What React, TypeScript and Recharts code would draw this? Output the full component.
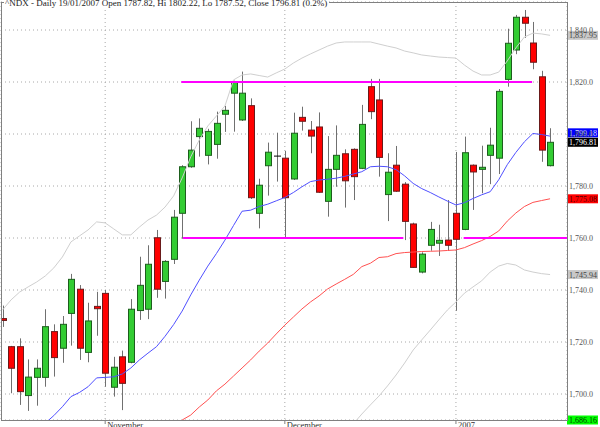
import {
  ComposedChart,
  Bar,
  Line,
  XAxis,
  YAxis,
  CartesianGrid,
  ReferenceLine,
} from "recharts";

const W = 600, H = 427;
const Y_MIN = 1690, Y_MAX = 1850.77;
const X_MIN = -0.175, X_MAX = 65.98;
const FONT = "'Liberation Serif', 'DejaVu Serif', serif";

const title = "^NDX - Daily 19/01/2007 Open 1787.82, Hi 1802.22, Lo 1787.52, Close 1796.81 (0.2%)";

// trading days 16 Oct 2006 .. 19 Jan 2007, one entry per candle index
const monthTicks = [12, 33, 53];
const monthLabels = ["November", "December", "2007"];
const priceTicks = [1700, 1720, 1740, 1760, 1780, 1800, 1820, 1840];

const opens = [1729.0, 1718.2, 1718.2, 1699.4, 1706.4, 1706.4, 1724.0, 1717.6, 1731.0, 1740.3, 1716.0, 1733.7, 1738.7, 1702.6, 1714.3, 1712.2, 1732.1, 1732.6, 1760.1, 1743.3, 1751.8, 1769.5, 1787.4, 1799.0, 1791.8, 1796.0, 1807.6, 1815.7, 1805.4, 1810.9, 1769.5, 1787.8, 1791.5, 1790.7, 1782.7, 1806.4, 1801.5, 1802.7, 1774.1, 1786.4, 1792.4, 1794.1, 1786.8, 1818.2, 1813.1, 1776.7, 1788.0, 1780.7, 1765.4, 1746.9, 1757.2, 1758.0, 1759.2, 1769.5, 1763.3, 1788.0, 1786.4, 1791.8, 1790.7, 1821.0, 1832.3, 1844.9, 1835.0, 1822.0, 1787.82];
const highs = [1734.0, 1718.5, 1721.4, 1713.3, 1713.3, 1732.6, 1726.8, 1730.0, 1746.2, 1741.9, 1735.1, 1739.3, 1740.0, 1714.3, 1716.7, 1736.5, 1752.8, 1757.2, 1763.1, 1751.5, 1770.8, 1788.0, 1804.9, 1806.0, 1802.0, 1808.6, 1810.8, 1820.5, 1824.0, 1813.7, 1782.8, 1796.7, 1800.5, 1793.5, 1808.2, 1810.5, 1805.0, 1808.3, 1799.2, 1803.3, 1794.1, 1794.5, 1811.2, 1821.2, 1821.2, 1792.6, 1795.4, 1781.5, 1765.9, 1754.5, 1766.2, 1765.1, 1774.6, 1793.1, 1799.0, 1788.3, 1795.5, 1802.4, 1817.3, 1840.5, 1845.8, 1847.7, 1843.1, 1824.3, 1802.22];
const lows = [1725.8, 1700.3, 1695.8, 1693.5, 1695.5, 1702.8, 1706.7, 1712.0, 1718.6, 1713.1, 1712.2, 1722.4, 1702.8, 1699.0, 1693.8, 1711.8, 1728.5, 1728.8, 1737.0, 1736.7, 1750.0, 1759.7, 1787.0, 1791.3, 1788.3, 1790.5, 1800.8, 1800.9, 1805.0, 1775.0, 1763.7, 1776.3, 1781.7, 1759.9, 1782.3, 1801.3, 1792.6, 1777.3, 1768.2, 1779.7, 1771.7, 1774.6, 1786.5, 1805.7, 1783.6, 1766.5, 1777.7, 1759.2, 1748.5, 1746.4, 1755.1, 1753.1, 1755.1, 1732.0, 1763.0, 1770.8, 1777.2, 1780.7, 1784.6, 1818.2, 1830.7, 1837.0, 1824.9, 1789.3, 1787.52];
const closes = [1728.3, 1709.9, 1700.9, 1706.5, 1709.9, 1725.9, 1714.0, 1726.8, 1744.1, 1717.6, 1728.1, 1732.8, 1708.0, 1710.3, 1704.1, 1732.6, 1741.8, 1749.9, 1740.3, 1751.0, 1768.0, 1787.4, 1793.8, 1802.2, 1801.0, 1804.1, 1809.1, 1820.0, 1815.7, 1775.5, 1780.3, 1793.0, 1791.5, 1775.5, 1800.3, 1804.9, 1799.2, 1777.6, 1786.4, 1791.8, 1782.0, 1783.6, 1803.7, 1808.6, 1791.0, 1785.3, 1778.0, 1766.4, 1748.7, 1753.8, 1763.3, 1759.1, 1757.2, 1759.5, 1792.8, 1785.4, 1787.2, 1795.7, 1816.4, 1834.9, 1844.9, 1842.6, 1827.6, 1793.8, 1796.81];

const sma20 = [null, null, null, null, 1684, 1688.8, 1691.7, 1695.1, 1699.0, 1700.6, 1702.8, 1706.2, 1706.4, 1706.6, 1707.7, 1710.0, 1713.1, 1715.7, 1718.2, 1722.2, 1726.7, 1731.9, 1738.1, 1743.8, 1749.2, 1754.0, 1759.2, 1764.8, 1770.3, 1770.7, 1772.1, 1773.0, 1774.3, 1775.6, 1777.5, 1779.7, 1781.7, 1782.3, 1782.6, 1783.0, 1783.7, 1784.6, 1785.5, 1787.4, 1787.6, 1787.4, 1786.3, 1783.9, 1781.0, 1779.0, 1777.5, 1775.8, 1774.2, 1772.7, 1773.6, 1775.2, 1776.6, 1777.8, 1782.4, 1788.2, 1792.9, 1797.0, 1800.2, 1799.8, 1799.18];
const sma50 = [null, null, null, null, null, null, null, null, null, null, null, null, null, null, null, null, null, null, null, null, 1687.5, 1690.0, 1691.9, 1695.0, 1697.7, 1701.2, 1703.8, 1706.9, 1710.0, 1713.1, 1716.5, 1719.6, 1723.1, 1726.5, 1729.6, 1732.7, 1735.4, 1737.7, 1740.4, 1742.3, 1744.1, 1746.0, 1749.0, 1750.3, 1752.5, 1752.8, 1754.0, 1754.4, 1754.6, 1754.8, 1754.9, 1755.0, 1755.2, 1755.4, 1756.3, 1757.7, 1759.0, 1760.6, 1762.7, 1766.5, 1769.6, 1772.1, 1773.7, 1774.4, 1775.08];
const bbUpper = [1732.3, 1736.2, 1739.2, 1741.2, 1743.1, 1745.4, 1748.5, 1752.7, 1758.5, 1760.8, 1763.1, 1766.2, 1765.8, 1763.5, 1761.2, 1761.2, 1764.2, 1766.9, 1768.8, 1771.9, 1776.2, 1783.1, 1791.2, 1797.7, 1803.1, 1806.9, 1810.8, 1820.8, 1822.7, 1823.1, 1822.5, 1821.9, 1823.5, 1825.0, 1827.3, 1829.2, 1830.8, 1832.3, 1833.8, 1835.0, 1835.4, 1835.4, 1835.4, 1835.4, 1834.6, 1833.8, 1833.1, 1831.9, 1831.2, 1830.4, 1830.0, 1829.6, 1829.4, 1829.2, 1826.5, 1824.2, 1822.7, 1822.7, 1823.8, 1828.1, 1833.1, 1837.3, 1838.8, 1838.5, 1837.95];
const bbLower = [null, null, null, null, null, null, null, null, null, null, null, null, null, null, null, null, null, null, null, null, null, null, null, null, null, null, null, null, null, null, null, null, null, null, null, null, null, null, null, null, 1682.0, 1688.5, 1692.3, 1695.8, 1699.2, 1703.1, 1707.3, 1711.9, 1716.9, 1720.8, 1724.6, 1728.5, 1732.3, 1735.4, 1738.8, 1741.2, 1743.5, 1746.9, 1749.2, 1750.2, 1749.6, 1747.7, 1746.9, 1746.3, 1745.94];

// hand-drawn trend lines (level, from index, to index)
const trendLines = [
  { level: 1820, from: 20.9, to: 61.9 },
  { level: 1760, from: 21.1, to: 46.85 },
  { level: 1760, from: 53.9, to: X_MAX },
];

// last-value boxes on the right scale
const boxValues = [1837.95, 1799.18, 1796.81, 1775.08, 1745.94, 1686.16];
const boxFills = ["#c8c8c8", "#0000ff", "#000000", "#ff0000", "#c8c8c8", "#00ff00"];
const boxText = ["#444", "#d8d8ff", "#ffffff", "#500000", "#444", "#004000"];
const boxShift = [0, -3.3, 0, 0, 0, 0];

const data = opens.map((o, i) => ({
  i,
  open: o,
  high: highs[i],
  low: lows[i],
  close: closes[i],
  sma20: sma20[i],
  sma50: sma50[i],
  bbUp: bbUpper[i],
  bbLo: bbLower[i],
}));

const fmt1 = (v: number) =>
  v.toLocaleString("en-US", { minimumFractionDigits: 1, maximumFractionDigits: 1 });
const fmt2 = (v: number) =>
  v.toLocaleString("en-US", { minimumFractionDigits: 2, maximumFractionDigits: 2 });

function Candle(props: any) {
  const { x, y, width, height, payload } = props;
  if (!payload) return null;
  const { open, close, high, low } = payload;
  const cx = Math.round(x + width / 2) + 0.5;
  const k = height / (high - low || 1);
  const top = y + (high - Math.max(open, close)) * k;
  const bh = Math.abs(open - close) * k;
  const up = close >= open;
  const left = Math.round(cx - 3.5);
  return (
    <g>
      <line x1={cx} x2={cx} y1={y} y2={y + height} stroke="#707070" strokeWidth={1} />
      {open === close ? (
        <line x1={left} x2={left + 7} y1={top} y2={top} stroke="#000" strokeWidth={1} />
      ) : (
        <rect
          x={left + 0.5}
          y={top}
          width={6}
          height={Math.max(bh, 1)}
          fill={up ? "#33cc33" : "#ff0000"}
          stroke={up ? "#1d5e1d" : "#6a1a1a"}
          strokeWidth={1}
        />
      )}
    </g>
  );
}

function YTick(props: any) {
  const { x, y, payload } = props;
  return (
    <text x={x} y={y + 3} fontSize={8} fill="#555" fontFamily={FONT} textAnchor="start">
      {fmt1(payload.value)}
    </text>
  );
}

function XTick(props: any) {
  const { x, y, payload } = props;
  const idx = monthTicks.indexOf(payload.value);
  return (
    <text x={x + 2} y={y + 2} fontSize={8.5} fill="#333" fontFamily={FONT} textAnchor="start">
      {monthLabels[idx]}
    </text>
  );
}

function boxLabel(k: number) {
  return (p: any) => {
    const vb = p.viewBox || {};
    const left = vb.x + vb.width;
    const cy = vb.y + boxShift[k];
    return (
      <g>
        <rect x={left} y={cy - 4.5} width={31} height={9} fill={boxFills[k]} />
        <text x={left + 2} y={cy + 3} fontSize={8} fill={boxText[k]} fontFamily={FONT}>
          {fmt2(boxValues[k])}
        </text>
      </g>
    );
  };
}

export default function App() {
  return (
    <div style={{ position: "absolute", left: 0, top: 0, width: W, height: H, background: "#fff", overflow: "hidden" }}>
      <ComposedChart width={W} height={H} data={data} margin={{ top: 2, right: 0, bottom: 0, left: 1 }}>
        <CartesianGrid stroke="#a8a8a8" strokeDasharray="1 3" />
        <XAxis
          dataKey="i"
          type="number"
          domain={[X_MIN, X_MAX]}
          allowDataOverflow
          ticks={monthTicks}
          interval={0}
          height={7}
          axisLine={false}
          tickLine={{ stroke: "#808080" }}
          tickSize={4}
          tick={<XTick />}
        />
        <YAxis
          orientation="right"
          type="number"
          domain={[Y_MIN, Y_MAX]}
          allowDataOverflow
          ticks={priceTicks}
          interval={0}
          width={33}
          axisLine={false}
          tickLine={false}
          tickSize={0}
          tickMargin={2}
          tick={<YTick />}
        />
        <Line type="linear" dataKey="bbUp" stroke="#cfcfcf" strokeWidth={1} dot={false} isAnimationActive={false} />
        <Line type="linear" dataKey="bbLo" stroke="#cfcfcf" strokeWidth={1} dot={false} isAnimationActive={false} />
        <Line type="linear" dataKey="sma50" stroke="#ff5050" strokeWidth={1} dot={false} isAnimationActive={false} />
        <Line type="linear" dataKey="sma20" stroke="#5050ff" strokeWidth={1} dot={false} isAnimationActive={false} />
        <Bar
          dataKey={(d: any) => [d.low, d.high]}
          barSize={7}
          shape={<Candle />}
          isAnimationActive={false}
        />
        {trendLines.map((t, k) => (
          <ReferenceLine
            key={`tl-${k}`}
            segment={[{ x: t.from, y: t.level }, { x: t.to, y: t.level }]}
            stroke="#ff00ff"
            strokeWidth={2}
            ifOverflow="visible"
          />
        ))}
        {boxValues.map((v, k) => (
          <ReferenceLine
            key={`bx-${k}`}
            y={Math.max(v, Y_MIN)}
            stroke="none"
            ifOverflow="visible"
            label={boxLabel(k)}
          />
        ))}
      </ComposedChart>
      <div
        style={{
          position: "absolute",
          left: 1,
          top: 2,
          width: 565,
          height: 417,
          border: "1px solid #808080",
          pointerEvents: "none",
        }}
      />
      <div
        style={{
          position: "absolute",
          left: 4,
          top: -2,
          background: "#fff",
          padding: "0 2px 0 1px",
          fontFamily: FONT,
          fontSize: 9,
          lineHeight: "10px",
          color: "#222",
          whiteSpace: "nowrap",
        }}
      >
        {title}
      </div>
    </div>
  );
}
